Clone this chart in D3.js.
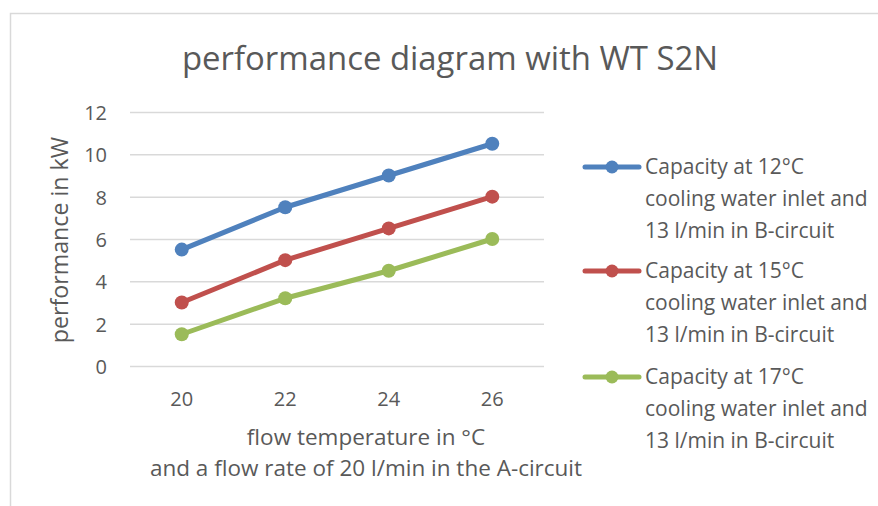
<!DOCTYPE html>
<html><head><meta charset="utf-8">
<script src="https://cdn.jsdelivr.net/npm/d3@7"></script>
<style>body{margin:0;background:#fff;} svg{display:block;}</style>
</head><body>
<script>
const categories = ["20", "22", "24", "26"];
const seriesNames = [
  ["Capacity at 12°C", "cooling water inlet and", "13 l/min in B-circuit"],
  ["Capacity at 15°C", "cooling water inlet and", "13 l/min in B-circuit"],
  ["Capacity at 17°C", "cooling water inlet and", "13 l/min in B-circuit"]
];
const blueValues = [5.5, 7.5, 9, 10.5];
const redValues = [3, 5, 6.5, 8];
const greenValues = [1.5, 3.2, 4.5, 6];
const yTicks = [0, 2, 4, 6, 8, 10, 12];
const colors = ["#4F81BD", "#C0504D", "#9BBB59"];
const title = "performance diagram with WT S2N";
const yTitle = "performance in kW";
const xTitle = ["flow temperature in °C", "and a flow rate of 20 l/min in the A-circuit"];

const series = [blueValues, redValues, greenValues];
const W = 878, H = 506;
const font = "'Open Sans', sans-serif";
const txt = "#595959";

const svg = d3.select("body").append("svg").attr("width", W).attr("height", H);
svg.append("rect").attr("x", 10.5).attr("y", 13.5).attr("width", 900).attr("height", 600)
  .attr("fill", "#fff").attr("stroke", "#d9d9d9").attr("stroke-width", 1.5);

const x = d3.scaleBand().domain(categories).range([130, 544]);
const y = d3.scaleLinear().domain([0, 12]).range([366, 112]);

// gridlines
svg.append("g").selectAll("line").data(yTicks).join("line")
  .attr("x1", 130).attr("x2", 544)
  .attr("y1", d => y(d) + 0.5).attr("y2", d => y(d) + 0.5)
  .attr("stroke", "#d9d9d9").attr("stroke-width", 1.5);

// axes
const yAxis = svg.append("g").attr("transform", "translate(130,0)")
  .call(d3.axisLeft(y).tickValues(yTicks).tickSize(0).tickPadding(23));
yAxis.select(".domain").remove();
yAxis.selectAll("text").attr("font-family", font).attr("font-size", 20).attr("fill", txt).attr("dy", "0.38em");

const xAxis = svg.append("g").attr("transform", "translate(0,366)")
  .call(d3.axisBottom(x).tickSize(0).tickPadding(26));
xAxis.select(".domain").remove();
xAxis.selectAll("text").attr("font-family", font).attr("font-size", 20).attr("fill", txt);

// lines
const line = d3.line().x((d, i) => x(categories[i]) + x.bandwidth() / 2).y(d => y(d));
series.forEach((vals, si) => {
  svg.append("path").datum(vals).attr("d", line)
    .attr("fill", "none").attr("stroke", colors[si]).attr("stroke-width", 5)
    .attr("stroke-linecap", "round").attr("stroke-linejoin", "round");
  svg.append("g").selectAll("circle").data(vals).join("circle")
    .attr("cx", (d, i) => x(categories[i]) + x.bandwidth() / 2)
    .attr("cy", d => y(d)).attr("r", 7).attr("fill", colors[si]);
});

// title
svg.append("text").attr("x", 450).attr("y", 70).attr("text-anchor", "middle")
  .attr("font-family", font).attr("font-size", 32.9).attr("fill", txt).text(title);

// y title
svg.append("text").attr("transform", "translate(68,240) rotate(-90)").attr("text-anchor", "middle")
  .attr("font-family", font).attr("font-size", 23.2).attr("fill", txt).text(yTitle);

// x title (one text, two lines)
const xt = svg.append("text").attr("text-anchor", "middle")
  .attr("font-family", font).attr("font-size", 22.5).attr("fill", txt);
xt.append("tspan").attr("x", 366).attr("y", 445).text(xTitle[0]);
xt.append("tspan").attr("x", 366).attr("y", 476).text(xTitle[1]);

// legend
const legendY = [167, 271, 377];
seriesNames.forEach((lines, si) => {
  const g = svg.append("g").attr("transform", `translate(0,${legendY[si]})`);
  g.append("line").attr("x1", 585).attr("x2", 639).attr("y1", 0).attr("y2", 0)
    .attr("stroke", colors[si]).attr("stroke-width", 5).attr("stroke-linecap", "round");
  g.append("circle").attr("cx", 612).attr("cy", 0).attr("r", 6.5).attr("fill", colors[si]);
  const t = g.append("text").attr("font-family", font).attr("font-size", 21).attr("fill", txt);
  lines.forEach((s, li) => {
    t.append("tspan").attr("x", 645).attr("y", 7 + li * 32).text(s);
  });
});
</script>
</body></html>
